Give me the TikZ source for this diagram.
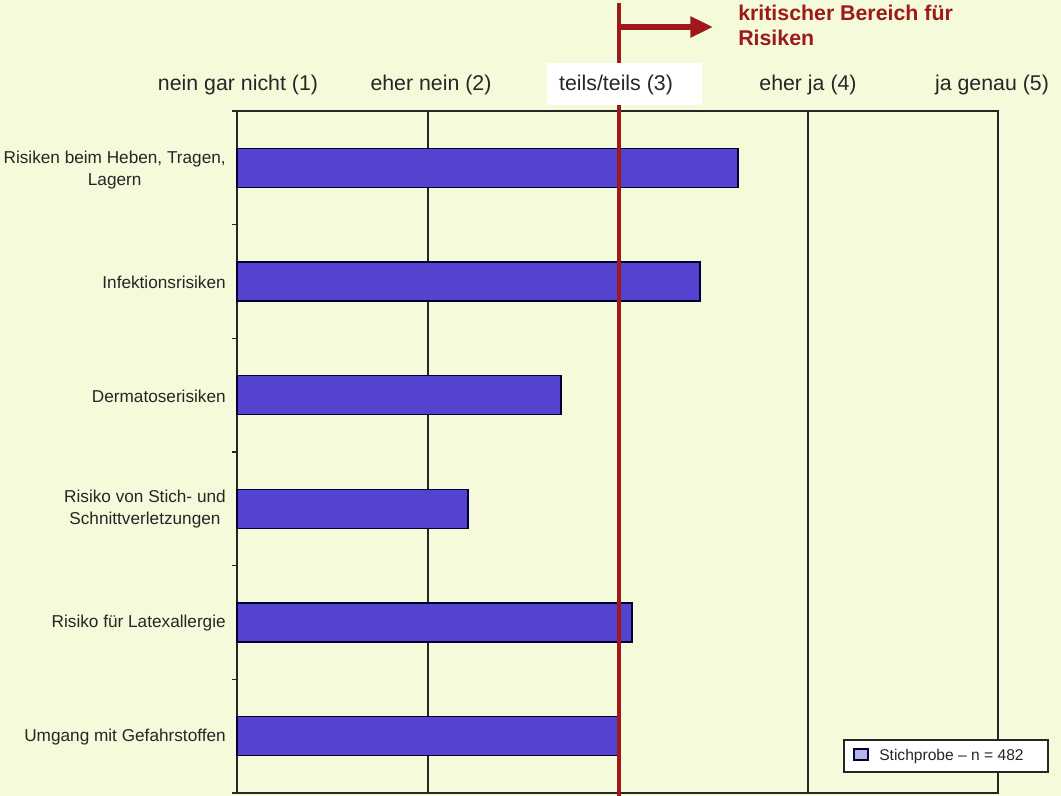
\documentclass[tikz,border=0pt]{standalone}
\usepackage{fontspec}
\setmainfont{Liberation Sans}
\usetikzlibrary{arrows.meta}
\definecolor{bg}{HTML}{F5FADB}
\definecolor{barfill}{HTML}{5443CF}
\definecolor{critred}{HTML}{9E1A1A}
\definecolor{legsq}{HTML}{B4B4E6}
\begin{document}
\begin{tikzpicture}[x=0.75pt,y=-0.75pt,
  hdr/.style={font=\fontsize{16}{19}\selectfont, text=black!85, inner sep=0},
  cat/.style={font=\fontsize{12.9}{16}\selectfont, text=black!85, align=center, anchor=east, inner sep=0},
  bar/.style={draw=black!80!blue, line width=1.1pt, fill=barfill},
  frame/.style={line width=1.2pt, draw=black!85}]
\fill[bg] (0,0) rectangle (1061,796);
\useasboundingbox (0,0) rectangle (1061,796);
% frame and grid
\draw[frame] (237,111) rectangle (998,793);
\draw[frame] (428,111) -- (428,793);
\draw[frame] (808,111) -- (808,793);
\foreach \k in {0,...,6} {
  \draw[frame] (232,{111+113.67*\k}) -- (237,{111+113.67*\k});
}
% bars
\foreach \i/\v in {1/738,2/700,3/561,4/468,5/632,6/620} {
  \draw[bar] (237,{111+113.67*(\i-0.5)-19.5}) rectangle (\v,{111+113.67*(\i-0.5)+19.5});
}
% category labels
\node[cat] (c1) at (226,170) {Risiken beim Heben, Tragen,\\Lagern};
\node[cat] (c2) at (226,282) {Infektionsrisiken};
\node[cat] (c3) at (226,396) {Dermatoserisiken};
\node[cat] (c4) at (226,509) {Risiko von Stich- und\\Schnittverletzungen};
\node[cat] (c5) at (226,623) {Risiko für Latexallergie};
\node[cat] (c6) at (226,737) {Umgang mit Gefahrstoffen};
% critical red line
\coordinate (rtop) at (619,3);
\coordinate (rbot) at (619,796);
\draw[critred, line width=3.2pt] (rtop) -- (rbot);
% white box behind middle header
\fill[white] (547,63) rectangle (702,105);
% header labels
\node[hdr] (h1) at (238,85) {nein gar nicht (1)};
\node[hdr] (h2) at (431,85) {eher nein (2)};
\node[hdr] (h3) at (616,85) {teils/teils (3)};
\node[hdr] (h4) at (808,85) {eher ja (4)};
\node[hdr] (h5) at (992,85) {ja genau (5)};
% arrow and title
\coordinate (astart) at (619,27);
\coordinate (aend) at (713,27);
\draw[critred, line width=4.5pt, -{Triangle[length=17pt,width=15pt]}] (astart) -- (aend);
\node[font=\fontsize{16}{18.75}\selectfont\bfseries, text=critred, align=left, anchor=north west, inner sep=0] (title) at (738,5) {kritischer Bereich für\\Risiken};
% legend
\node[draw=black!85, line width=1pt, fill=white, minimum width=204*0.75pt, minimum height=32*0.75pt, inner sep=0] (leg) at (946,756) {};
\draw[draw=black!80!blue, line width=1pt, fill=legsq] (854,749) rectangle (868,760);
\node[font=\fontsize{11.7}{14}\selectfont, text=black!85, anchor=west, inner sep=0] (legtext) at (879,756) {Stichprobe – n = 482};
\end{tikzpicture}
\end{document}
